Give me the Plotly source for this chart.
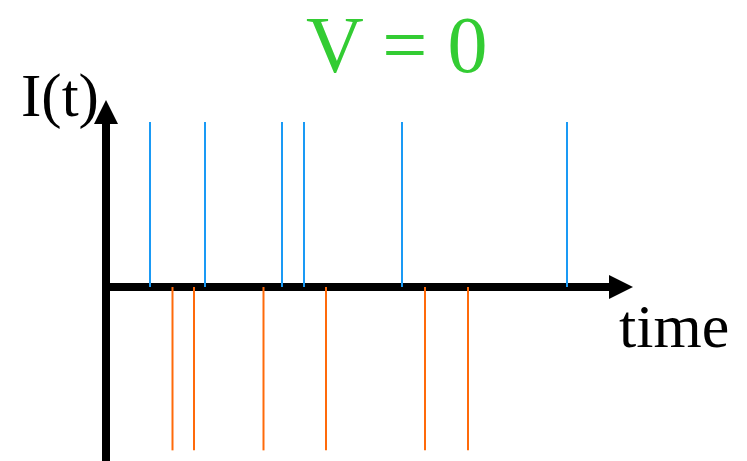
import plotly.graph_objects as go

# Spike times (arbitrary time units) and their current amplitudes
up_times = [0.88, 1.98, 3.52, 3.96, 5.92, 9.22]
up_amps = [1.0, 1.0, 1.0, 1.0, 1.0, 1.0]
down_times = [1.33, 1.76, 3.15, 4.40, 6.38, 7.24]
down_amps = [-0.99, -0.99, -0.99, -0.99, -0.99, -0.99]

W, H = 747, 461
X_RANGE = [-2.12, 12.82]      # time axis window
Y_RANGE = [-1.0545, 1.739]    # current axis window

px_x = W / (X_RANGE[1] - X_RANGE[0])
px_y = H / (Y_RANGE[1] - Y_RANGE[0])


def spikes(times, amps):
    xs, ys = [], []
    for t, a in zip(times, amps):
        xs += [t, t, None]
        ys += [0, a, None]
    return xs, ys


fig = go.Figure()
bx, by = spikes(up_times, up_amps)
ox, oy = spikes(down_times, down_amps)
fig.add_trace(go.Scatter(x=bx, y=by, mode="lines",
                         line=dict(color="#1a9af5", width=2), hoverinfo="skip"))
fig.add_trace(go.Scatter(x=ox, y=oy, mode="lines",
                         line=dict(color="#ff6a0a", width=2), hoverinfo="skip"))

# Axis arrows (time axis and current axis), drawn under the spikes
t_tip, t_base = 10.54, 10.06
i_tip, i_base = 1.133, 0.988
head_half_x = 12 / px_y   # half-width of time-arrow head, in current units
head_half_y = 12 / px_x   # half-width of current-arrow head, in time units
shaft = 8

shapes = [
    dict(type="line", xref="x", yref="y", x0=-4 / px_x, x1=t_base + 0.05,
         y0=0, y1=0, line=dict(color="black", width=shaft), layer="below"),
    dict(type="line", xref="x", yref="y", x0=0, x1=0,
         y0=Y_RANGE[0] - 0.05, y1=i_base + 0.02,
         line=dict(color="black", width=shaft), layer="below"),
    dict(type="path", xref="x", yref="y",
         path=f"M {t_base},{head_half_x} L {t_tip},0 L {t_base},{-head_half_x} Z",
         fillcolor="black", line=dict(width=0), layer="below"),
    dict(type="path", xref="x", yref="y",
         path=f"M {-head_half_y},{i_base} L 0,{i_tip} L {head_half_y},{i_base} Z",
         fillcolor="black", line=dict(width=0), layer="below"),
]

serif = "Liberation Serif, Times New Roman, serif"
annotations = [
    dict(text="V = 0", xref="paper", yref="paper", x=396 / W, y=1 - 45 / H,
         xanchor="center", yanchor="middle", showarrow=False,
         font=dict(family=serif, size=80, color="#33cc33")),
    dict(text="I(t)", xref="paper", yref="paper", x=60 / W, y=1 - 96 / H,
         xanchor="center", yanchor="middle", showarrow=False,
         font=dict(family=serif, size=61, color="black")),
    dict(text="time", xref="paper", yref="paper", x=674 / W, y=1 - 326 / H,
         xanchor="center", yanchor="middle", showarrow=False,
         font=dict(family=serif, size=62, color="black")),
]

fig.update_layout(
    width=W, height=H,
    margin=dict(l=0, r=0, t=0, b=0),
    paper_bgcolor="white", plot_bgcolor="white",
    showlegend=False,
    xaxis=dict(range=X_RANGE, visible=False, fixedrange=True),
    yaxis=dict(range=Y_RANGE, visible=False, fixedrange=True),
    shapes=shapes,
    annotations=annotations,
)

fig.write_html("out.html")
